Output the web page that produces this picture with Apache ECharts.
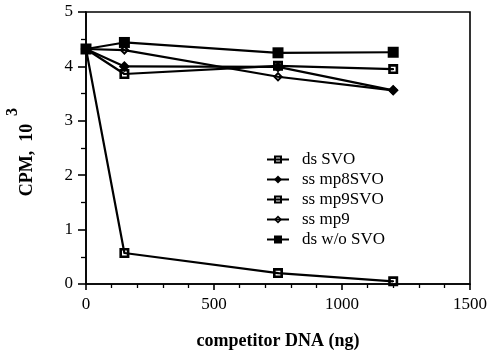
<!DOCTYPE html>
<html>
<head>
<meta charset="utf-8">
<script src="https://cdn.jsdelivr.net/npm/echarts@6/dist/echarts.min.js"></script>
<style>
  html, body { margin: 0; padding: 0; background: #fff; }
  #main { width: 492px; height: 350px; }
</style>
</head>
<body>
<div id="main"></div>
<script>
var doses = [0, 150, 750, 1200];
var dsSVO = [4.32, 0.57, 0.2, 0.05];
var ssMp8SVO = [4.32, 4.0, 3.99, 3.56];
var ssMp9SVO = [4.32, 3.86, 4.01, 3.95];
var ssMp9 = [4.32, 4.3, 3.81, 3.56];
var dsWoSVO = [4.32, 4.44, 4.25, 4.26];
var seriesNames = ['ds SVO', 'ss mp8SVO', 'ss mp9SVO', 'ss mp9', 'ds w/o SVO'];

// marker shapes: open square / open diamond with a dot in the middle
var openSquare = 'path://M0,0L10,0L10,10L0,10Z M2.6,2.6L2.6,7.4L7.4,7.4L7.4,2.6Z M4.2,4.2L5.8,4.2L5.8,5.8L4.2,5.8Z';
var openDiamond = 'path://M5,0L10,5L5,10L0,5Z M5,2.8L2.8,5L5,7.2L7.2,5Z M5,4L6,5L5,6L4,5Z';

var serif = '"Liberation Serif", "Times New Roman", serif';

function pairs(vals) {
    return doses.map(function (d, i) { return [d, vals[i]]; });
}

function mkSeries(name, vals, symbol, size) {
    return {
        name: name,
        type: 'line',
        data: pairs(vals),
        symbol: symbol,
        symbolSize: size,
        showAllSymbol: true,
        lineStyle: { color: '#000', width: 2.2 },
        itemStyle: { color: '#000' },
        animation: false
    };
}

var myChart = echarts.init(document.getElementById('main'));
myChart.setOption({
    backgroundColor: '#fff',
    textStyle: { fontFamily: serif },
    grid: {
        left: 86, right: 22, top: 12, bottom: 66,
        outerBoundsMode: 'none',
        containLabel: false,
        show: true, borderColor: '#000', borderWidth: 1.6
    },
    legend: {
        data: seriesNames,
        orient: 'vertical',
        left: 261,
        top: 146,
        itemWidth: 22,
        itemHeight: 10,
        itemGap: 3,
        textStyle: { fontFamily: serif, fontSize: 17, color: '#000', padding: [0, 0, 0, 8] }
    },
    xAxis: {
        type: 'value',
        min: 0, max: 1500, interval: 500,
        name: 'competitor DNA (ng)',
        nameLocation: 'middle',
        nameGap: 48,
        nameTextStyle: { fontFamily: serif, fontSize: 18, fontWeight: 'bold', color: '#000' },
        axisLine: { lineStyle: { color: '#000', width: 1.6 } },
        axisTick: { show: true, length: 6, lineStyle: { color: '#000', width: 1.6 } },
        minorTick: { show: true, splitNumber: 5, length: 4, lineStyle: { color: '#000', width: 1.3 } },
        axisLabel: {
            fontFamily: serif, fontSize: 17, color: '#000', margin: 12,
            formatter: function (v) { return String(v); }
        },
        splitLine: { show: false }
    },
    yAxis: {
        type: 'value',
        min: 0, max: 5, interval: 1,
        name: 'CPM,  10',
        nameLocation: 'middle',
        nameGap: 50,
        nameTextStyle: { fontFamily: serif, fontSize: 18, fontWeight: 'bold', color: '#000', padding: [0, 24, 0, 0] },
        axisLine: { lineStyle: { color: '#000', width: 1.6 } },
        axisTick: { show: true, length: 8, lineStyle: { color: '#000', width: 1.6 } },
        minorTick: { show: true, splitNumber: 2, length: 5, lineStyle: { color: '#000', width: 1.3 } },
        axisLabel: { fontFamily: serif, fontSize: 17, color: '#000', margin: 13 },
        splitLine: { show: false }
    },
    graphic: [{
        type: 'text',
        left: 5,
        top: 108,
        rotation: Math.PI / 2,
        style: { text: '3', font: 'bold 16px ' + serif, fill: '#000' }
    }],
    series: [
        mkSeries('ds SVO', dsSVO, openSquare, 10),
        mkSeries('ss mp8SVO', ssMp8SVO, 'diamond', 11),
        mkSeries('ss mp9SVO', ssMp9SVO, openSquare, 10),
        mkSeries('ss mp9', ssMp9, openDiamond, 10),
        mkSeries('ds w/o SVO', dsWoSVO, 'rect', 11)
    ]
});
</script>
</body>
</html>
